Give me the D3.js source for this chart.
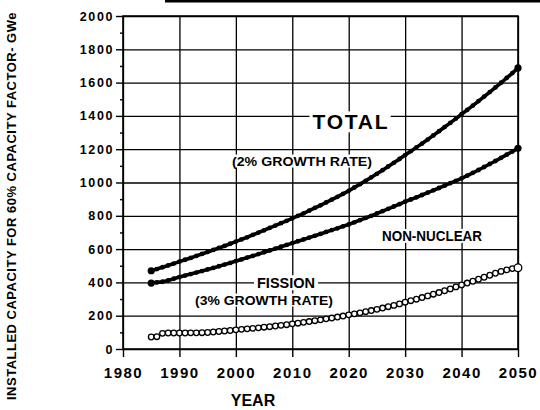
<!DOCTYPE html>
<html lang="en">
<head>
<meta charset="utf-8">
<title>Installed capacity</title>
<script src="https://d3js.org/d3.v7.min.js"></script>
<style>
  body { margin: 0; background: #fff; }
  svg { display: block; }
  text { font-family: "Liberation Sans", Arial, sans-serif; font-weight: bold; fill: #000; }
  .axis path { display: none; }
  .axis line { stroke: #000; stroke-width: 1.4; }
  .gridax path { display: none; }
  .gridax line { stroke: #000; stroke-width: 1.3; }
</style>
</head>
<body>
<svg id="chart" width="540" height="410"></svg>
<script>
// data (GWe, one point per year 1985-2050)
const years = d3.range(1985, 2051);
const total = [470, 480, 491, 502, 513,
  525, 536, 547, 559, 571, 583, 595, 607, 619, 632,
  645, 658, 671, 685, 699, 713, 727, 741, 756, 770,
  785, 800, 815, 831, 847, 863, 880, 897, 914, 932,
  950, 970, 990, 1010, 1031, 1052, 1074, 1096, 1118, 1141,
  1165, 1188, 1211, 1234, 1258, 1283, 1308, 1333, 1358, 1384,
  1410, 1436, 1462, 1489, 1516, 1543, 1571, 1599, 1628, 1657, 1688];
const nonNuclear = [396, 400, 404, 412, 422,
  432, 441, 450, 459, 468, 478, 487, 497, 507, 517,
  528, 538, 549, 559, 570, 581, 592, 603, 614, 625,
  636, 647, 658, 669, 680, 691, 703, 714, 725, 737,
  748, 761, 774, 787, 800, 814, 828, 842, 856, 870,
  885, 898, 911, 925, 939, 953, 967, 981, 996, 1010,
  1025, 1041, 1058, 1075, 1093, 1111, 1129, 1148, 1167, 1186, 1205];
const fission = [72, 74, 94, 96, 96,
  96, 96, 97, 97, 98, 99, 102, 105, 108, 111,
  115, 118, 121, 124, 127, 131, 134, 138, 142, 146,
  151, 155, 160, 165, 170, 175, 181, 186, 192, 198,
  205, 211, 217, 224, 231, 238, 246, 254, 262, 271,
  281, 290, 299, 309, 319, 329, 339, 350, 361, 373,
  385, 396, 407, 419, 431, 443, 455, 466, 475, 483, 488];

const xTicks = [1980, 1990, 2000, 2010, 2020, 2030, 2040, 2050];
const yTicks = [0, 200, 400, 600, 800, 1000, 1200, 1400, 1600, 1800, 2000];
const yMinor = [100, 300, 500, 700, 900, 1100, 1300, 1500, 1700, 1900];

const svg = d3.select("#chart");
const pLeft = 123, pRight = 518, pTop = 16, pBottom = 349;

const x = d3.scaleLinear().domain([1980, 2050]).range([pLeft, pRight]);
const y = d3.scaleLinear().domain([0, 2000]).range([pBottom, pTop]);

// cut-off caption line at the very top of the scan
svg.append("rect").attr("x", 165).attr("y", 0).attr("width", 375).attr("height", 2.5).attr("fill", "#000");

// grid, drawn as long axis ticks
svg.append("g").attr("class", "gridax")
  .attr("transform", `translate(${pLeft},0)`)
  .call(d3.axisLeft(y).tickValues(yTicks).tickSize(-(pRight - pLeft)).tickFormat(""));
svg.append("g").attr("class", "gridax")
  .attr("transform", `translate(0,${pBottom})`)
  .call(d3.axisBottom(x).tickValues(xTicks).tickSize(-(pBottom - pTop)).tickFormat(""));

// axes
svg.append("g").attr("class", "axis")
  .attr("transform", `translate(${pLeft},0)`)
  .call(d3.axisLeft(y).tickValues(yTicks).tickSize(7).tickPadding(2).tickFormat(d3.format("d")))
  .call(g => g.selectAll("text").style("font-size", "12.5px").attr("letter-spacing", 1.6));
svg.append("g").attr("class", "axis")
  .attr("transform", `translate(${pLeft},0)`)
  .call(d3.axisLeft(y).tickValues(yMinor).tickSize(3).tickFormat(""));
svg.append("g").attr("class", "axis")
  .attr("transform", `translate(0,${pBottom})`)
  .call(d3.axisBottom(x).tickValues(xTicks).tickSize(8).tickPadding(10).tickFormat(d3.format("d")))
  .call(g => g.selectAll("text").style("font-size", "15px").attr("letter-spacing", 1.5));

// axis frame
svg.append("path")
  .attr("d", `M${pLeft},${pBottom}V${pTop}H${pRight}V${pBottom}Z`)
  .attr("fill", "none").attr("stroke", "#000").attr("stroke-width", 1.6);

// titles
svg.append("text")
  .attr("transform", "translate(16,12) rotate(-90)")
  .attr("text-anchor", "end")
  .attr("letter-spacing", 0.5)
  .style("font-size", "13px")
  .text("INSTALLED CAPACITY FOR 60% CAPACITY FACTOR- GWe");
svg.append("text")
  .attr("x", 253).attr("y", 406)
  .attr("text-anchor", "middle")
  .style("font-size", "16px")
  .text("YEAR");

// in-plot labels with white boxes over the grid
function label(txt, cx, cy, size, width, adjust) {
  const g = svg.append("g");
  const t = g.append("text")
    .attr("x", cx - width / 2).attr("y", cy)
    .attr("dy", "0.35em")
    .attr("textLength", width)
    .attr("lengthAdjust", adjust || "spacingAndGlyphs")
    .style("font-size", size + "px")
    .text(txt);
  const b = t.node().getBBox();
  g.insert("rect", "text")
    .attr("x", b.x - 3).attr("y", b.y + 1)
    .attr("width", b.width + 6).attr("height", b.height - 2)
    .attr("fill", "#fff");
}

// series
const line = d3.line().x((d, i) => x(years[i])).y(d => y(d));
[total, nonNuclear].forEach(s => {
  svg.append("path").datum(s)
    .attr("d", line)
    .attr("fill", "none").attr("stroke", "#000").attr("stroke-width", 3.6);
  svg.append("g").selectAll("circle").data(s).join("circle")
    .attr("cx", (d, i) => x(years[i])).attr("cy", d => y(d))
    .attr("r", (d, i) => (i === 0 || i === s.length - 1) ? 3.6 : 2.4)
    .attr("fill", "#000");
});

label("TOTAL", 350, 122, 21, 75, "spacing");
label("(2% GROWTH RATE)", 302, 161, 13, 140);
label("NON-NUCLEAR", 432, 236, 14, 100);
label("FISSION", 286, 283, 15, 58);
label("(3% GROWTH RATE)", 264, 300, 13, 138);

svg.append("g").selectAll("circle").data(fission).join("circle")
  .attr("cx", (d, i) => x(years[i])).attr("cy", d => y(d))
  .attr("r", (d, i) => i === fission.length - 1 ? 3.8 : 2.8)
  .attr("fill", "#fff").attr("stroke", "#000").attr("stroke-width", 1.3);
</script>
</body>
</html>
